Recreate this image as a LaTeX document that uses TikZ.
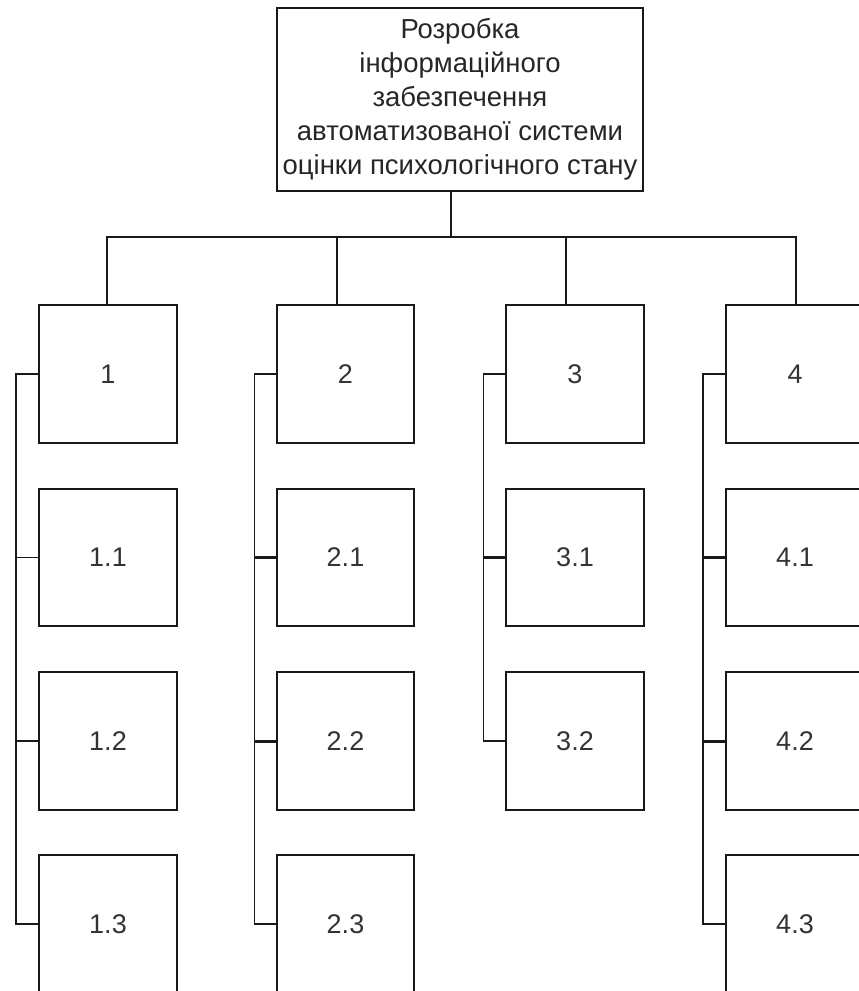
\documentclass[tikz,border=0pt]{standalone}
\usepackage{fontspec}
\setmainfont{Liberation Sans}
\begin{document}
\begin{tikzpicture}[x=1pt,y=-1pt,
  ln/.style={line width=1.6pt, draw=black!90},
  thk/.style={line width=3pt, draw=black!90},
  box/.style={ln, rectangle, minimum width=137.5pt, minimum height=137.5pt, inner sep=0pt,
    font=\fontsize{27}{32}\selectfont, text=black!80},
  topbox/.style={ln, rectangle, minimum width=366pt, minimum height=183pt, inner sep=0pt,
    align=center, font=\fontsize{27.5}{34}\selectfont, text=black!85}]
\useasboundingbox (0,0) rectangle (859,991);
\clip (0,0) rectangle (859,991);
% top box
\node[topbox] (top) at (460,99.5) {Розробка\\інформаційного\\забезпечення\\автоматизованої системи\\оцінки психологічного стану};
% boxes
\foreach \c/\x in {1/108,2/345.5,3/575,4/795}{
  \node[box] (b\c) at (\x,374) {\c};
}
\node[box] (b11) at (108,557.5) {1.1};
\node[box] (b12) at (108,741) {1.2};
\node[box] (b13) at (108,924) {1.3};
\node[box] (b21) at (345.5,557.5) {2.1};
\node[box] (b22) at (345.5,741) {2.2};
\node[box] (b23) at (345.5,924) {2.3};
\node[box] (b31) at (575,557.5) {3.1};
\node[box] (b32) at (575,741) {3.2};
\node[box] (b41) at (795,557.5) {4.1};
\node[box] (b42) at (795,741) {4.2};
\node[box] (b43) at (795,924) {4.3};
% bus
\coordinate (t0) at (451,237);
\coordinate (s1) at (107,237);
\coordinate (s2) at (337,237);
\coordinate (s3) at (566,237);
\coordinate (s4) at (796,237);
\draw[ln] (top.south -| t0) -- (t0);
\draw[ln] (s1 |- b1.north) -- (s1) -- (s4) -- (s4 |- b4.north);
\draw[ln] (s2) -- (s2 |- b2.north);
\draw[ln] (s3) -- (s3 |- b3.north);
% brackets
\coordinate (k1) at (16,0);
\coordinate (k2) at (254.5,0);
\coordinate (k3) at (483.5,0);
\coordinate (k4) at (703,0);
\draw[ln] (b1.west) -- (b1.west -| k1) -- (b13.west -| k1) -- (b13.west);
\draw[ln] (b11.west -| k1) -- (b11.west);
\draw[ln] (b12.west -| k1) -- (b12.west);
\draw[ln] (b2.west) -- (b2.west -| k2) -- (b23.west -| k2) -- (b23.west);
\draw[thk] (b21.west -| k2) -- (b21.west);
\draw[thk] (b22.west -| k2) -- (b22.west);
\draw[ln] (b3.west) -- (b3.west -| k3) -- (b32.west -| k3) -- (b32.west);
\draw[thk] (b31.west -| k3) -- (b31.west);
\draw[ln] (b4.west) -- (b4.west -| k4) -- (b43.west -| k4) -- (b43.west);
\draw[thk] (b41.west -| k4) -- (b41.west);
\draw[thk] (b42.west -| k4) -- (b42.west);
\end{tikzpicture}
\end{document}
